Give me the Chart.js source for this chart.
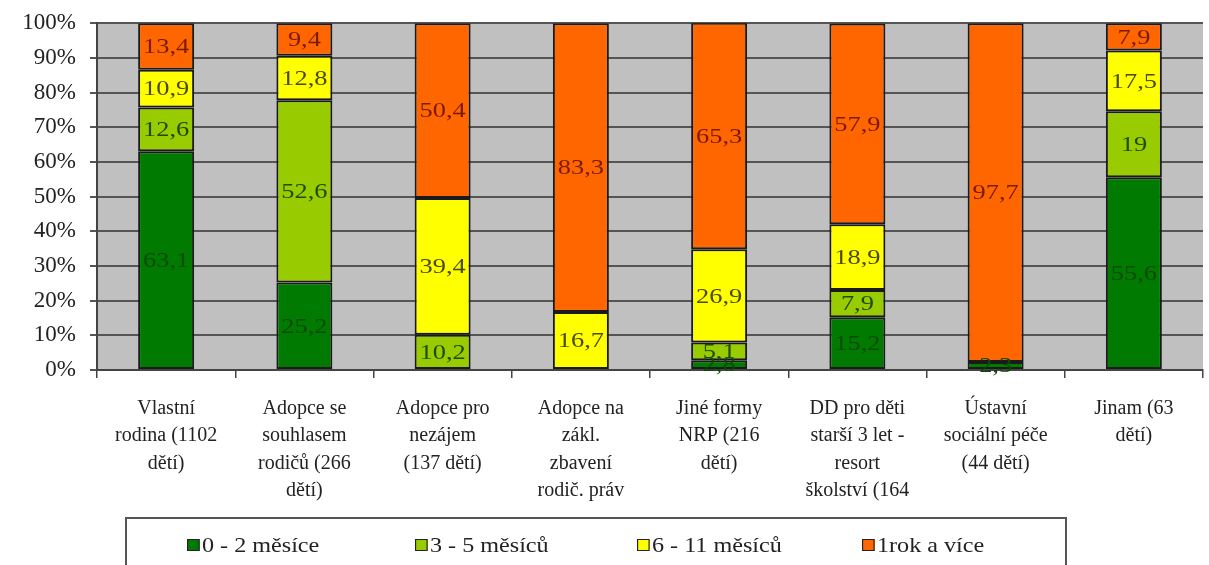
<!DOCTYPE html>
<html>
<head>
<meta charset="utf-8">
<script src="https://cdn.jsdelivr.net/npm/chart.js@4/dist/chart.umd.min.js"></script>
<style>
  html, body { margin: 0; padding: 0; background: #fff; }
  #wrap { position: relative; width: 1209px; height: 565px; overflow: hidden; }
  #legend {
    position: absolute; left: 125px; top: 517px; width: 942px; height: 60px;
    border: 2px solid #555; box-sizing: border-box;
    font-family: "Liberation Serif", serif; font-size: 21px; color: #222;
  }
  #legend span.item { position: absolute; top: 14px; white-space: nowrap; transform: scaleX(1.15); transform-origin: left center; }
  #legend span.sw {
    display: inline-block; width: 9px; height: 10px; border: 1.5px solid #222;
    margin-right: 2px; vertical-align: 1px;
  }
</style>
</head>
<body>
<div id="wrap">
  <canvas id="chart" width="1209" height="565"></canvas>
  <div id="legend"></div>
</div>
<script>
document.addEventListener('DOMContentLoaded', () => {
    const categories = [
        ['Vlastní', 'rodina (1102', 'dětí)'],
        ['Adopce se', 'souhlasem', 'rodičů (266', 'dětí)'],
        ['Adopce pro', 'nezájem', '(137 dětí)'],
        ['Adopce na', 'zákl.', 'zbavení', 'rodič. práv'],
        ['Jiné formy', 'NRP (216', 'dětí)'],
        ['DD pro děti', 'starší 3 let -', 'resort', 'školství (164'],
        ['Ústavní', 'sociální péče', '(44 dětí)'],
        ['Jinam (63', 'dětí)']
    ];
    const seriesNames = ['0 - 2 měsíce', '3 - 5 měsíců', '6 - 11 měsíců', '1rok a více'];
    const months0to2 = [63.1, 25.2, null, null, 2.8, 15.2, 2.3, 55.6];
    const months3to5 = [12.6, 52.6, 10.2, null, 5.1, 7.9, null, 19];
    const months6to11 = [10.9, 12.8, 39.4, 16.7, 26.9, 18.9, null, 17.5];
    const yearPlus = [13.4, 9.4, 50.4, 83.3, 65.3, 57.9, 97.7, 7.9];
    const yTicks = [0, 10, 20, 30, 40, 50, 60, 70, 80, 90, 100];

    const fillColors = ['#007a00', '#99cc00', '#ffff00', '#ff6600'];
    const labelColors = ['#0b4a05', '#1f4a00', '#4a4a00', '#7a1a00'];
    const serif = '"Liberation Serif", "Times New Roman", serif';

    const seriesData = [months0to2, months3to5, months6to11, yearPlus];

    // gray plot background
    const plotBackground = {
        id: 'plotBackground',
        beforeDraw(chart) {
            const { ctx, chartArea: a } = chart;
            ctx.save();
            ctx.fillStyle = '#c0c0c0';
            ctx.fillRect(a.left, a.top, a.right - a.left, a.bottom - a.top);
            ctx.restore();
        }
    };

    // value labels in the middle of each segment (slightly wide, like the original)
    const segmentLabels = {
        id: 'segmentLabels',
        afterDatasetsDraw(chart) {
            const ctx = chart.ctx;
            ctx.save();
            ctx.font = '22px ' + serif;
            ctx.textAlign = 'center';
            ctx.textBaseline = 'middle';
            chart.data.datasets.forEach((ds, i) => {
                const meta = chart.getDatasetMeta(i);
                meta.data.forEach((bar, j) => {
                    const v = ds.data[j];
                    if (v === null) return;
                    const p = bar.getProps(['x', 'y', 'base'], true);
                    ctx.save();
                    ctx.translate(p.x, (p.y + p.base) / 2 + 1);
                    ctx.scale(1.2, 1);
                    ctx.fillStyle = labelColors[i];
                    ctx.fillText(String(v).replace('.', ','), 0, 0);
                    ctx.restore();
                });
            });
            ctx.restore();
        }
    };

    const ctx = document.getElementById('chart').getContext('2d');
    new Chart(ctx, {
        type: 'bar',
        data: {
            labels: categories,
            datasets: seriesNames.map((name, i) => ({
                label: name,
                data: seriesData[i],
                backgroundColor: fillColors[i],
                borderColor: '#1a1a1a',
                borderWidth: 2,
                borderSkipped: false,
                categoryPercentage: 1,
                barPercentage: 0.405
            }))
        },
        options: {
            responsive: false,
            animation: false,
            layout: { padding: { top: 22, right: 6, left: 0, bottom: 0 } },
            plugins: {
                legend: { display: false },
                tooltip: { enabled: false }
            },
            scales: {
                x: {
                    stacked: true,
                    offset: true,
                    grid: { offset: true, drawOnChartArea: false, drawTicks: true, tickLength: 8, color: '#444', lineWidth: 1.5 },
                    border: { color: '#444', width: 2 },
                    ticks: {
                        color: '#222', padding: 17, maxRotation: 0, autoSkip: false,
                        font: { family: serif, size: 20, lineHeight: 1.37 }
                    },
                    afterFit(scale) { scale.height = 195; }
                },
                y: {
                    stacked: true,
                    min: 0, max: 100,
                    afterBuildTicks(scale) { scale.ticks = yTicks.map(v => ({ value: v })); },
                    grid: { color: '#555', lineWidth: 2, tickLength: 7 },
                    border: { color: '#444', width: 2 },
                    ticks: {
                        color: '#222', padding: 14,
                        font: { family: serif, size: 23, lineHeight: 0.8 },
                        callback: v => v + '%'
                    },
                    afterFit(scale) { scale.width = 97; }
                }
            }
        },
        plugins: [plotBackground, segmentLabels]
    });

    // legend box under the chart
    const legendEl = document.getElementById('legend');
    const legendX = [60, 288, 510, 735];
    seriesNames.forEach((name, i) => {
        const item = document.createElement('span');
        item.className = 'item';
        item.style.left = legendX[i] + 'px';
        item.innerHTML = '<span class="sw" style="background:' + fillColors[i] + '"></span>' + name;
        legendEl.appendChild(item);
    });
});
</script>
</body>
</html>
